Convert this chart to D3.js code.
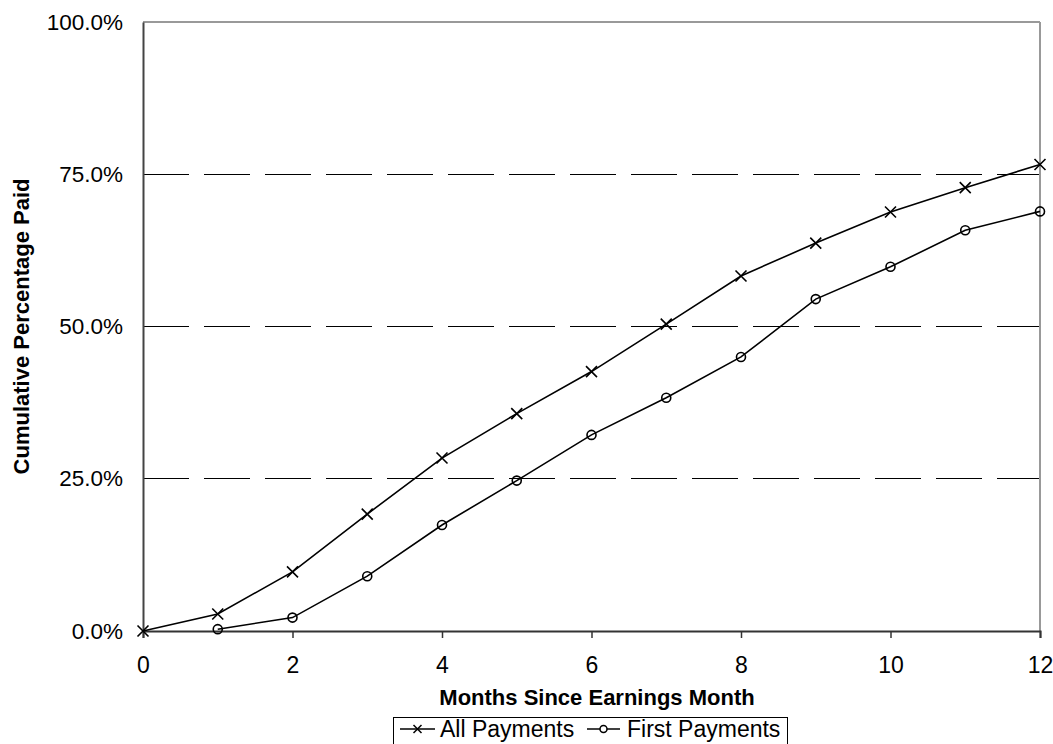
<!DOCTYPE html>
<html><head><meta charset="utf-8">
<script src="https://cdn.jsdelivr.net/npm/d3@7"></script>
<style>
html,body{margin:0;padding:0;background:#fff;}
svg{display:block;font-family:"Liberation Sans",Arial,sans-serif;}
</style></head>
<body>
<svg id="chart" width="1053" height="744"></svg>
<script>
const months = [0,1,2,3,4,5,6,7,8,9,10,11,12];
const allPayments = [0.0,2.8,9.7,19.2,28.4,35.7,42.6,50.4,58.3,63.7,68.8,72.8,76.6];
const firstMonths = [1,2,3,4,5,6,7,8,9,10,11,12];
const firstPayments = [0.3,2.2,9.0,17.4,24.7,32.2,38.3,45.0,54.5,59.8,65.8,68.9];
const xTicks = [0,2,4,6,8,10,12];
const yTicks = [0,25,50,75,100];
const gridValues = [25,50,75];
const seriesNames = ["All Payments","First Payments"];
const xTitle = "Months Since Earnings Month";
const yTitle = "Cumulative Percentage Paid";

const svg = d3.select("#chart");
const L = 143, R = 1040, T = 22, B = 631;
const x = d3.scaleLinear().domain([0,12]).range([L,R]);
const y = d3.scaleLinear().domain([0,100]).range([B,T]);

// gridlines
svg.append("g").selectAll("line").data(gridValues).join("line")
  .attr("x1",L).attr("x2",R).attr("y1",d=>y(d)).attr("y2",d=>y(d))
  .attr("stroke","#000").attr("stroke-width",1).attr("stroke-dasharray","46,15")
  .attr("shape-rendering","crispEdges");

// frame top/right
svg.append("line").attr("x1",L).attr("x2",R).attr("y1",T).attr("y2",T)
  .attr("stroke","#999").attr("stroke-width",2).attr("shape-rendering","crispEdges");
svg.append("line").attr("x1",R).attr("x2",R).attr("y1",T).attr("y2",B)
  .attr("stroke","#999").attr("stroke-width",2).attr("shape-rendering","crispEdges");

// axes
const xAxis = svg.append("g").attr("transform",`translate(0,${B})`)
  .call(d3.axisBottom(x).tickValues(xTicks).tickSize(7).tickPadding(19).tickFormat(d3.format("d")));
xAxis.select(".domain").attr("stroke","#333").attr("stroke-width",2);
xAxis.selectAll(".tick line").attr("stroke","#333").attr("stroke-width",1.5);
xAxis.selectAll("text").attr("font-size",23).attr("fill","#000");

const yAxis = svg.append("g").attr("transform",`translate(${L},0)`)
  .call(d3.axisLeft(y).tickValues(yTicks).tickSize(0).tickPadding(20).tickFormat(d=>d.toFixed(1)+"%"));
yAxis.select(".domain").attr("stroke","#444").attr("stroke-width",2);
yAxis.selectAll("text").attr("font-size",22.5).attr("fill","#000");

// lines
const lineGen = d3.line().x(d=>x(d[0])).y(d=>y(d[1]));
const allData = months.map((m,i)=>[m,allPayments[i]]);
const firstData = firstMonths.map((m,i)=>[m,firstPayments[i]]);

svg.append("path").datum(allData).attr("d",lineGen)
  .attr("fill","none").attr("stroke","#000").attr("stroke-width",1.6);
svg.append("path").datum(firstData).attr("d",lineGen)
  .attr("fill","none").attr("stroke","#000").attr("stroke-width",1.6);

const xm = 5.5;
function crossPath(cx,cy,s){return `M${cx-s},${cy-s}L${cx+s},${cy+s}M${cx-s},${cy+s}L${cx+s},${cy-s}`;}
svg.append("g").selectAll("path").data(allData).join("path")
  .attr("d",d=>crossPath(x(d[0]),y(d[1]),xm))
  .attr("stroke","#000").attr("stroke-width",1.6).attr("fill","none");
svg.append("g").selectAll("circle").data(firstData).join("circle")
  .attr("cx",d=>x(d[0])).attr("cy",d=>y(d[1])).attr("r",4.5)
  .attr("fill","none").attr("stroke","#000").attr("stroke-width",1.6);

// titles
svg.append("text").attr("x",597).attr("y",705).attr("text-anchor","middle")
  .attr("font-size",22).attr("font-weight","bold").text(xTitle);
svg.append("text").attr("transform",`translate(29,${(T+B)/2}) rotate(-90)`)
  .attr("text-anchor","middle").attr("font-size",22).attr("font-weight","bold").text(yTitle);

// legend
const lg = svg.append("g");
lg.append("rect").attr("x",393.5).attr("y",717.5).attr("width",394).attr("height",40)
  .attr("fill","#fff").attr("stroke","#000").attr("stroke-width",1);
// item 1
lg.append("line").attr("x1",400).attr("x2",435).attr("y1",729).attr("y2",729).attr("stroke","#000").attr("stroke-width",1.5);
lg.append("path").attr("d",crossPath(417.5,729,4)).attr("stroke","#000").attr("stroke-width",1.5);
lg.append("text").attr("x",440).attr("y",737).attr("font-size",23).text(seriesNames[0]);
// item 2
lg.append("line").attr("x1",587).attr("x2",620).attr("y1",729).attr("y2",729).attr("stroke","#000").attr("stroke-width",1.5);
lg.append("circle").attr("cx",603.5).attr("cy",729).attr("r",3.5).attr("fill","#fff").attr("stroke","#000").attr("stroke-width",1.5);
lg.append("text").attr("x",627).attr("y",737).attr("font-size",23).text(seriesNames[1]);
</script>
</body></html>
